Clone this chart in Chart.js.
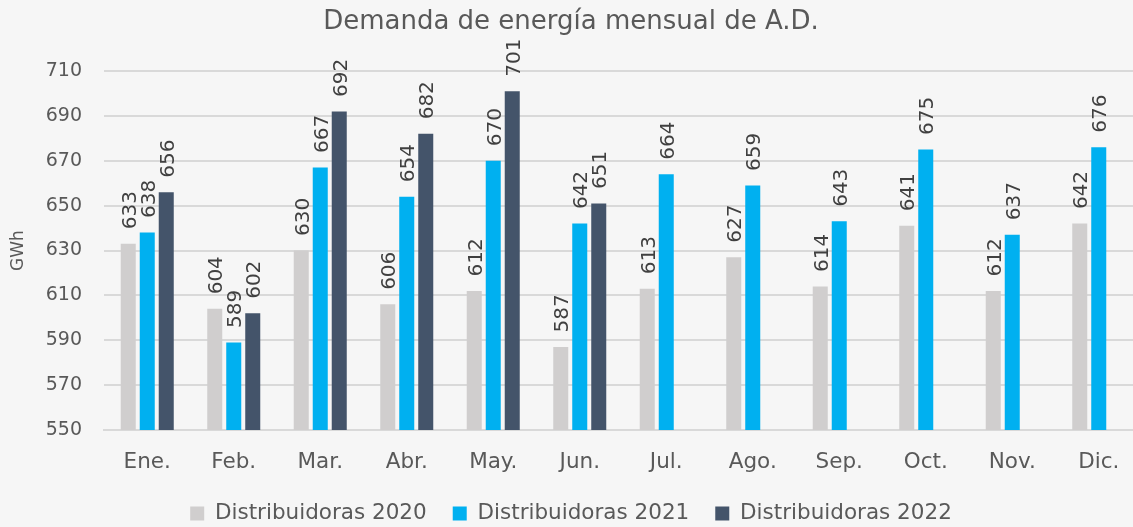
<!DOCTYPE html>
<html>
<head>
<meta charset="utf-8">
<script src="https://cdn.jsdelivr.net/npm/chart.js@4.4.0/dist/chart.umd.min.js"></script>
<style>
  html, body { margin: 0; padding: 0; background: #f6f6f6; overflow: hidden; }
  #wrap { width: 1133px; height: 527px; overflow: hidden; }
</style>
</head>
<body>
<div id="wrap"><canvas id="c" width="1142" height="527"></canvas></div>
<script>
const categories = ["Ene.", "Feb.", "Mar.", "Abr.", "May.", "Jun.", "Jul.", "Ago.", "Sep.", "Oct.", "Nov.", "Dic."];
const seriesNames = ["Distribuidoras 2020", "Distribuidoras 2021", "Distribuidoras 2022"];
const values2020 = [633, 604, 630, 606, 612, 587, 613, 627, 614, 641, 612, 642];
const values2021 = [638, 589, 667, 654, 670, 642, 664, 659, 643, 675, 637, 676];
const values2022 = [656, 602, 692, 682, 701, 651, null, null, null, null, null, null];
const yTicks = [550, 570, 590, 610, 630, 650, 670, 690, 710];
const colors = ["#d0cece", "#00b0f0", "#44546a"];
const FONT = "'DejaVu Sans', sans-serif";
const TEXT = "#595959";
const LEGEND_PAD = 26;

const labelPlugin = {
  id: "vlabels",
  afterDatasetsDraw(chart) {
    const ctx = chart.ctx;
    ctx.save();
    ctx.font = "20px " + FONT;
    ctx.fillStyle = "#404040";
    ctx.textAlign = "left";
    ctx.textBaseline = "alphabetic";
    chart.data.datasets.forEach((ds, di) => {
      const meta = chart.getDatasetMeta(di);
      meta.data.forEach((bar, i) => {
        const v = ds.data[i];
        if (v === null || v === undefined) return;
        ctx.save();
        ctx.translate(bar.x, bar.y - 14.5);
        ctx.rotate(-Math.PI / 2);
        ctx.fillText(String(v), 0, 7.3);
        ctx.restore();
      });
    });
    ctx.restore();
  }
};

new Chart(document.getElementById("c"), {
  type: "bar",
  data: {
    labels: categories,
    datasets: [
      { label: seriesNames[0], data: values2020, backgroundColor: colors[0] },
      { label: seriesNames[1], data: values2021, backgroundColor: colors[1] },
      { label: seriesNames[2], data: values2022, backgroundColor: colors[2] }
    ]
  },
  options: {
    responsive: false,
    animation: false,
    devicePixelRatio: 1,
    datasets: { bar: { categoryPercentage: 0.659, barPercentage: 0.79 } },
    layout: { padding: { top: 0, right: 0, left: 0, bottom: -7.25 } },
    plugins: {
      title: {
        display: true,
        text: "Demanda de energía mensual de A.D.",
        color: TEXT,
        font: { family: FONT, size: 26, weight: "normal", lineHeight: 1.2 },
        padding: { top: 6.4, bottom: 33.4 }
      },
      legend: {
        position: "bottom",
        labels: {
          color: TEXT,
          font: { family: FONT, size: 21.5, weight: "normal" },
          boxWidth: 14,
          boxHeight: 14,
          padding: LEGEND_PAD
        }
      },
      tooltip: { enabled: false }
    },
    scales: {
      x: {
        grid: { display: false, drawTicks: false },
        border: { display: true, color: "#d9d9d9", width: 2 },
        ticks: { color: TEXT, font: { family: FONT, size: 21.5 }, padding: 19.5 },
        afterFit(scale) { scale.height = 72.75 - LEGEND_PAD; }
      },
      y: {
        min: 550,
        max: 710,
        afterBuildTicks(axis) { axis.ticks = yTicks.map(v => ({ value: v })); },
        grid: { color: "#d9d9d9", lineWidth: 2, drawTicks: false },
        border: { display: false },
        ticks: { color: TEXT, font: { family: FONT, size: 19 }, padding: 22 },
        title: { display: true, text: "GWh", color: TEXT, font: { family: FONT, size: 17 }, padding: { top: 8, bottom: 0 } },
        afterFit(scale) { scale.width = 104; }
      }
    }
  },
  plugins: [labelPlugin]
});
</script>
</body>
</html>
